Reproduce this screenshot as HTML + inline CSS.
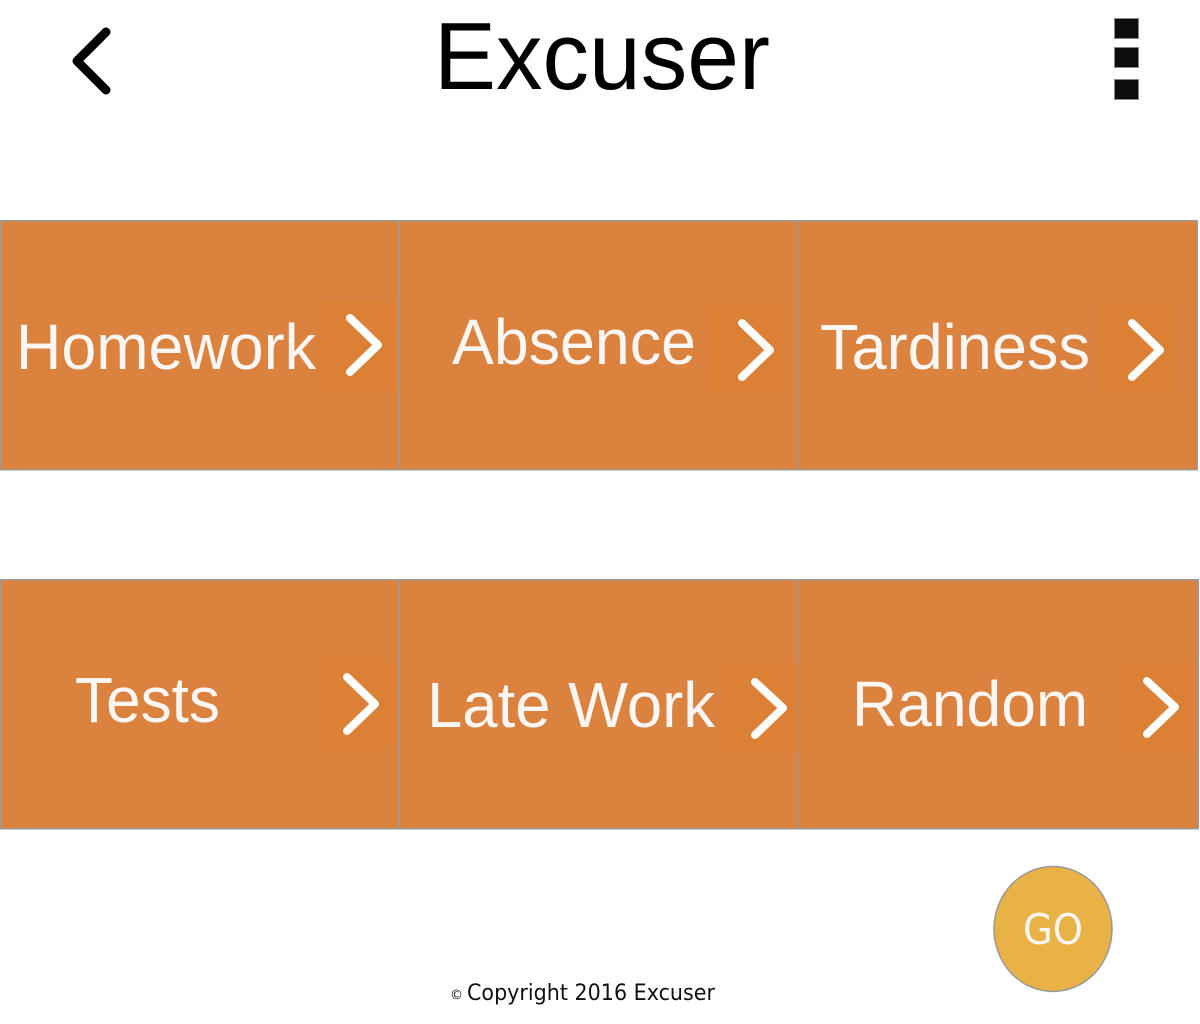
<!DOCTYPE html>
<html><head><meta charset="utf-8"><style>html,body{margin:0;padding:0;background:#fff;}svg{display:block}</style></head>
<body>
<svg width="1200" height="1024" viewBox="0 0 1200 1024" xmlns="http://www.w3.org/2000/svg">
<rect width="1200" height="1024" fill="#fff"/>
<polyline points="106,32 77,61 106,90" fill="none" stroke="#000" stroke-width="9" stroke-linecap="round" stroke-linejoin="round"/>
<text x="434" y="89" font-family="Liberation Sans, DejaVu Sans, sans-serif" font-size="96" textLength="336" lengthAdjust="spacingAndGlyphs" fill="#000">Excuser</text>
<g fill="#0c0c0c" stroke="#888" stroke-width="1"><rect x="1114.5" y="18.5" width="24" height="20"/><rect x="1114.5" y="47.5" width="24" height="20"/><rect x="1114.5" y="79.5" width="24" height="20"/></g>
<g fill="#da823e" stroke="#9a9a9a" stroke-width="1.5">
<rect x="0.75" y="220.75" width="398.5" height="249"/><rect x="399.25" y="220.75" width="398.5" height="249"/><rect x="797.75" y="220.75" width="399.5" height="249"/>
<rect x="0.75" y="579.75" width="398.5" height="249"/><rect x="399.25" y="579.75" width="398.5" height="249"/><rect x="797.75" y="579.75" width="400.5" height="249"/>
</g>
<g fill="#dc8036">
<rect x="317" y="300" width="76" height="90"/><rect x="709" y="305" width="77" height="90"/><rect x="1099" y="305" width="77" height="90"/>
<rect x="314" y="659" width="77" height="90"/><rect x="722" y="663" width="76" height="90"/><rect x="1114" y="663" width="76" height="90"/>
</g>
<g fill="none" stroke="#fff" stroke-width="8" stroke-linecap="round" stroke-linejoin="round">
<polyline points="350,318 378,345 350,372"/><polyline points="742,323 770,350 742,377"/><polyline points="1132,323 1160,350 1132,377"/>
<polyline points="347,677 375,704 347,731"/><polyline points="755,682 783,708 755,735"/><polyline points="1147,681 1175,707 1147,734"/>
</g>
<g font-family="Liberation Sans, Arial, sans-serif" font-size="64" fill="#fcf6f4">
<text x="16" y="369" textLength="300" lengthAdjust="spacingAndGlyphs">Homework</text>
<text x="452" y="364" textLength="244" lengthAdjust="spacingAndGlyphs">Absence</text>
<text x="820" y="369" textLength="270" lengthAdjust="spacingAndGlyphs">Tardiness</text>
<text x="75" y="722" textLength="145" lengthAdjust="spacingAndGlyphs">Tests</text>
<text x="427" y="727" textLength="288" lengthAdjust="spacingAndGlyphs">Late Work</text>
<text x="852" y="726" textLength="236" lengthAdjust="spacingAndGlyphs">Random</text>
</g>
<ellipse cx="1053" cy="929" rx="59" ry="62.5" fill="#e9b247" stroke="#999" stroke-width="1.5"/>
<text x="1053" y="944" text-anchor="middle" font-family="DejaVu Sans, sans-serif" font-size="42" fill="#fcf6f4" textLength="60" lengthAdjust="spacingAndGlyphs">GO</text>
<text x="450" y="999" font-family="DejaVu Sans, sans-serif" font-size="13" fill="#111">©</text>
<text x="467" y="1000" font-family="DejaVu Sans, sans-serif" font-size="22" fill="#111" textLength="248" lengthAdjust="spacingAndGlyphs">Copyright 2016 Excuser</text>
</svg>
</body></html>
